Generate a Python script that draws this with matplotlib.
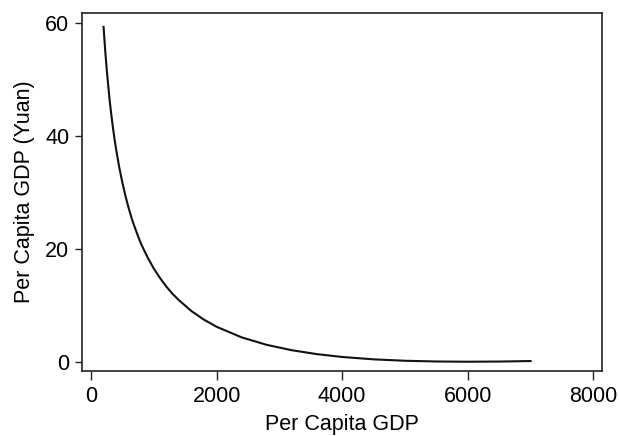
import matplotlib
matplotlib.use("Agg")
import matplotlib.pyplot as plt

# values
gdp = [200, 225, 250, 275, 300, 325, 350, 375, 400, 450, 500, 550, 600, 650, 700,
       750, 800, 900, 1000, 1100, 1200, 1300, 1400, 1600, 1800, 2000, 2400, 2800,
       3200, 3600, 4000, 4500, 5000, 5500, 6000, 6500, 7000]
value = [59.3, 55.3, 51.8, 48.8, 46.0, 43.6, 41.4, 39.4, 37.6, 34.4, 31.7, 29.3, 27.2,
         25.3, 23.7, 22.2, 20.8, 18.5, 16.5, 14.8, 13.3, 12.0, 10.9, 8.96, 7.44, 6.19,
         4.31, 2.98, 2.03, 1.34, 0.84, 0.42, 0.17, 0.04, 0.0, 0.03, 0.12]

xticks = [0, 2000, 4000, 6000, 8000]
yticks = [0, 20, 40, 60]

plt.rcParams["font.family"] = ["Liberation Sans", "DejaVu Sans"]

fig = plt.figure(figsize=(6.19, 4.36), dpi=100)
ax = fig.add_axes([0.132, 0.149, 0.841, 0.8205])
ax.plot(gdp, value, color="#111111", lw=1.5)

ax.set_xlim(-148, 8142)
ax.set_ylim(-1.65, 61.7)
ax.set_xticks(xticks)
ax.set_yticks(yticks)
ax.tick_params(axis="both", labelsize=15.5, width=1, color="#222222")
ax.tick_params(axis="x", length=6.5, pad=4)
ax.tick_params(axis="y", length=5, pad=4)
for sp in ax.spines.values():
    sp.set_linewidth(1.2)
    sp.set_color("#222222")

ax.set_xlabel("Per Capita GDP", fontsize=15.5, labelpad=5)
ax.set_ylabel("Per Capita GDP (Yuan)", fontsize=15.5, labelpad=7)

fig.savefig("out.png", dpi=100)
